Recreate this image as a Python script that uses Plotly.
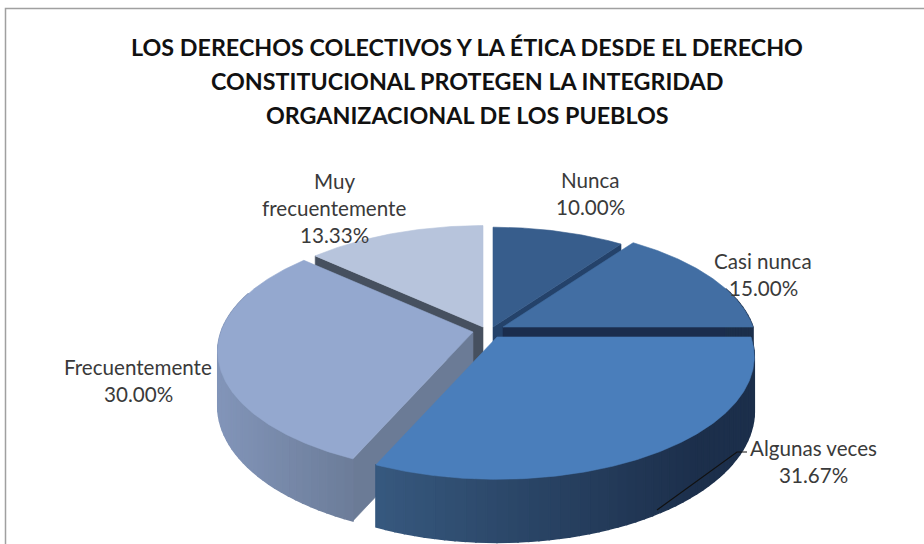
import math
import plotly.graph_objects as go

# --- data ---
categories = ["Nunca", "Casi nunca", "Algunas veces", "Frecuentemente", "Muy frecuentemente"]
values = [10.00, 15.00, 31.67, 30.00, 13.33]
label_lines = [["Nunca"], ["Casi nunca"], ["Algunas veces"], ["Frecuentemente"], ["Muy", "frecuentemente"]]
title_lines = [
    "LOS DERECHOS COLECTIVOS Y LA ÉTICA DESDE EL DERECHO",
    "CONSTITUCIONAL PROTEGEN LA INTEGRIDAD",
    "ORGANIZACIONAL DE LOS PUEBLOS",
]

# --- styles ---
top_colors = ["#375d8c", "#426ea3", "#4a7ebb", "#94a8cf", "#b7c4dc"]
cut_colors = ["#24426a", "#1b2d4d", None, "#6b7b96", "#46505f"]
# which end of the slice shows its flat cut face
cut_end = [1, 1, None, 0, 0]
wall_left = ["#2a4a72", "#2a4a72", "#37597f", "#8295b9", "#46505f"]
wall_right = ["#1c2f4b", "#1c2f4b", "#1c2f4b", "#6a7a96", "#46505f"]
# pixel range over which each wall goes from its left to its right colour
wall_span = [(218, 400), (218, 400), (377, 700), (218, 370), (218, 400)]
# exploded centre of each slice, in page pixels
centers = [(493, 327), (503, 327), (497, 337), (473, 332), (483, 327)]
radii = [246, 250, 254, 252, 250]
label_pos = [(590, 180), (763, 261), (813, 448), (138, 367), (334, 181)]
LINE_GAP = 27
RY = 120       # ellipse height
K = 0.16       # perspective
DEPTH = 53     # thickness of the pie


def project(center, radius, theta, drop=0):
    # theta in degrees clockwise from the top
    t = math.radians(theta)
    d = math.cos(t)
    f = 1 + K * d
    x = center[0] + radius * math.sin(t) / f
    y = center[1] - RY * (radius / 255) * d / f + drop / f
    return x, y


def mix(c1, c2, a):
    p = [int(c1[i:i + 2], 16) for i in (1, 3, 5)]
    q = [int(c2[i:i + 2], 16) for i in (1, 3, 5)]
    return "rgb(%d,%d,%d)" % tuple(round(u + (v - u) * a) for u, v in zip(p, q))


def poly(xs, ys, color, width=0.6):
    return go.Scatter(x=xs + xs[:1], y=ys + ys[:1], mode="lines", fill="toself", fillcolor=color,
                      line=dict(color=color, width=width), hoverinfo="skip", showlegend=False)


# slice angles from the values
total = sum(values)
starts = []
acc = 0
for v in values:
    starts.append(acc / total * 360)
    acc += v
spans = [v / total * 360 for v in values]

fig = go.Figure()

# back slices first, front slices last
for i in [4, 0, 1, 3, 2]:
    c, r, a0, sp = centers[i], radii[i], starts[i], spans[i]

    # flat cut face
    if cut_colors[i]:
        edge = a0 + sp * cut_end[i]
        ex, ey = project(c, r, edge)
        bx, by = project(c, r, edge, DEPTH)
        ax, ay = project(c, 0, edge)
        dx, dy = project(c, 0, edge, DEPTH)
        fig.add_trace(poly([ax, ex, bx, dx], [ay, ey, by, dy], cut_colors[i]))

    # outer wall as strips, shaded left to right
    n = max(int(sp / 2), 2)
    lo, hi = wall_span[i]
    for j in range(n):
        t0 = a0 + sp * j / n
        t1 = a0 + sp * (j + 1) / n
        if math.cos(math.radians((t0 + t1) / 2)) > 0.35:
            continue
        p0 = project(c, r, t0)
        p1 = project(c, r, t1)
        p2 = project(c, r, t1, DEPTH)
        p3 = project(c, r, t0, DEPTH)
        share = min(max((p0[0] - lo) / (hi - lo), 0), 1)
        fig.add_trace(poly([p0[0], p1[0], p2[0], p3[0]], [p0[1], p1[1], p2[1], p3[1]],
                           mix(wall_left[i], wall_right[i], share), width=1.5))

    # top face
    steps = max(int(sp * 2), 4)
    pts = [project(c, r, a0 + sp * j / steps) for j in range(steps + 1)]
    ax, ay = project(c, 0, a0)
    fig.add_trace(poly([ax] + [p[0] for p in pts], [ay] + [p[1] for p in pts], top_colors[i]))

# leader line of "Algunas veces"
fig.add_trace(go.Scatter(x=[747, 737, 657], y=[452, 452, 510], mode="lines",
                         line=dict(color="#111111", width=1.2), hoverinfo="skip", showlegend=False))

# title, one annotation per line because the line gap is wide
for y, line in zip([47, 81, 115], title_lines):
    fig.add_annotation(x=467, y=y, text="<b>%s</b>" % line, showarrow=False, xref="x", yref="y",
                       font=dict(family="Lato", size=23.3, color="#111111"))

# data labels
for name, v, lines, pos in zip(categories, values, label_lines, label_pos):
    rows = lines + ["%.2f%%" % v]
    for k, row in enumerate(rows):
        fig.add_annotation(x=pos[0], y=pos[1] + k * LINE_GAP, text=row, showarrow=False, xref="x", yref="y",
                           font=dict(family="Lato", size=20.6, color="#3a3a3a"))

# chart frame
fig.add_shape(type="rect", x0=5.5, y0=8.5, x1=960, y1=560, xref="x", yref="y",
              line=dict(color="#a0a0a0", width=1.5))

fig.update_layout(
    width=924, height=544, margin=dict(l=0, r=0, t=0, b=0),
    paper_bgcolor="white", plot_bgcolor="white", showlegend=False,
    xaxis=dict(range=[0, 924], visible=False, fixedrange=True),
    yaxis=dict(range=[544, 0], visible=False, fixedrange=True),
)
fig.write_html("out.html", config={"displayModeBar": False},
               post_script="document.body.style.margin='0';")
